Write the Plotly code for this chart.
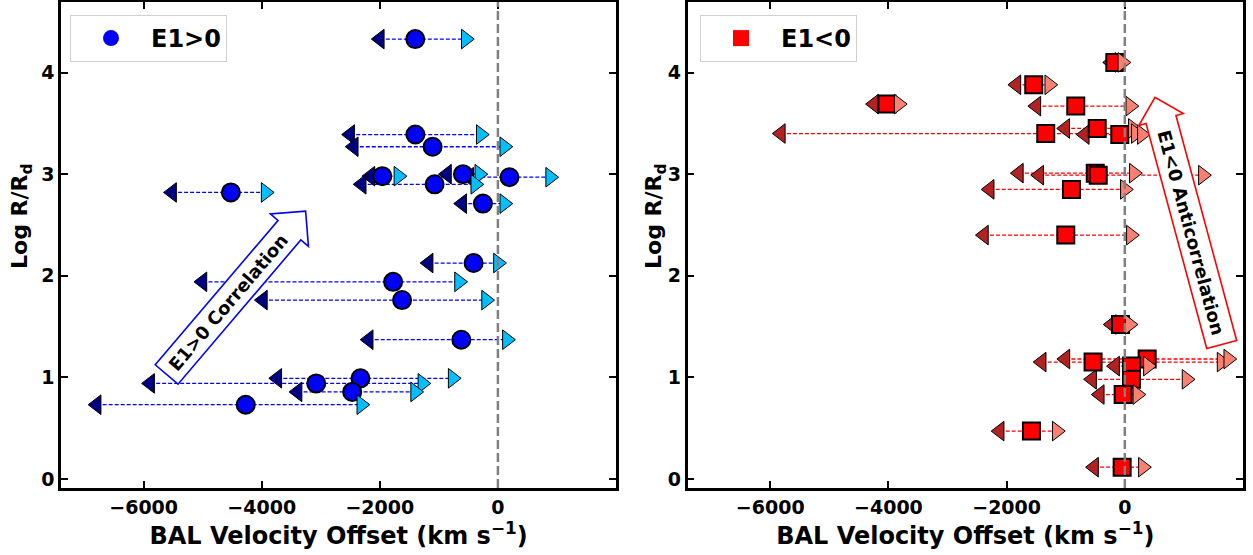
import math
import plotly.graph_objects as go

# ---------------- data ----------------
# E1>0 sample: BAL velocity (circle), Log R/Rd, min and max velocity (triangles)
pos_vel = [-1400, -4523, -1398, -1106, -1958, -592, 196, -1072, -254, -412,
           -1775, -1623, -620, -2328, -3077, -2468, -4272]
pos_logr = [4.33, 2.82, 3.39, 3.27, 2.98, 3.00, 2.97, 2.90, 2.71, 2.125,
            1.94, 1.76, 1.37, 0.99, 0.94, 0.856, 0.73]
pos_vmin = [-2000, -5518, -2502, -2441, -2159, -862, -485, -2306, -604, -1173,
            -5004, -3980, -2188, -3736, -5890, -3393, -6796]
pos_vmax = [-545, -3934, -291, 107, -1686, -316, 884, -384, 107, 0,
            -659, -201, 152, -767, -1280, -1403, -2314]

# E1<0 sample
neg_vel = [-169, -1541, -830, -467, -1338, -85, -4025, -500, -450, -903,
           -999, -73, -537, 378, 113, 113, -28, -1580, -45]
neg_logr = [4.10, 3.88, 3.67, 3.45, 3.40, 3.39, 3.69, 3.01, 2.99, 2.85,
            2.40, 1.52, 1.15, 1.18, 1.11, 0.98, 0.83, 0.47, 0.115]
neg_vmin = [-230, -1834, -1496, -1008, -5820, -677, -4242, -1792, -1448, -2286,
            -2383, -220, -1406, -1005, -164, -553, -423, -2117, -520]
neg_vmax = [-42, -1279, 93, 135, 186, 288, -3827, 152, 1321, 0,
            102, 79, 1637, 1750, 390, 1044, 212, -1152, 305]

x_tickvals = [-6000, -4000, -2000, 0]
x_ticktext = ["\u22126000", "\u22124000", "\u22122000", "0"]
y_tickvals = [0, 1, 2, 3, 4]
x_range = [-7400, 2000]
y_range = [-0.09, 4.695]

# ---------------- layout geometry ----------------
W, H = 1253, 555
ML, MR, MT, MB = 61, 10, 2, 67
PW = W - ML - MR
PH = H - MT - MB
FONT = "DejaVu Sans"

fig = go.Figure()


def add_panel(xa, ya, vel, logr, vmin, vmax, line_col, lo_col, hi_col, mk_col,
              symbol, size, name, legend):
    lx, ly = [], []
    for a, b, yy in zip(vmin, vmax, logr):
        lx += [a, b, None]
        ly += [yy, yy, None]
    fig.add_trace(go.Scatter(x=lx, y=ly, mode="lines", xaxis=xa, yaxis=ya,
                             line=dict(color=line_col, width=1.3, dash="4px,2px"),
                             showlegend=False, hoverinfo="skip"))
    fig.add_trace(go.Scatter(x=vmin, y=logr, mode="markers", xaxis=xa, yaxis=ya,
                             marker=dict(symbol="triangle-left", size=17, color=lo_col,
                                         line=dict(color="black", width=1)),
                             showlegend=False))
    fig.add_trace(go.Scatter(x=vel, y=logr, mode="markers", xaxis=xa, yaxis=ya,
                             marker=dict(symbol=symbol, size=size, color=mk_col,
                                         line=dict(color="black", width=2)),
                             showlegend=False))
    fig.add_trace(go.Scatter(x=vmax, y=logr, mode="markers", xaxis=xa, yaxis=ya,
                             marker=dict(symbol="triangle-right", size=17, color=hi_col,
                                         line=dict(color="black", width=1)),
                             showlegend=False))
    # legend entry
    fig.add_trace(go.Scatter(x=[None], y=[None], mode="markers", xaxis=xa, yaxis=ya,
                             marker=dict(symbol=symbol, size=16, color=mk_col),
                             name=name, legend=legend, showlegend=True))


add_panel("x", "y", pos_vel, pos_logr, pos_vmin, pos_vmax,
          "blue", "#000080", "#00BFFF", "blue", "circle", 18, "E1>0", "legend")
add_panel("x2", "y2", neg_vel, neg_logr, neg_vmin, neg_vmax,
          "red", "#B22222", "#FA8072", "red", "square", 17, "E1<0", "legend2")


def px2paper(px, py):
    return (px - ML) / PW, (H - MB - py) / PH


def arrow_path(x0, y0, ang_deg, body_len, half_w, head_half, head_len):
    a = math.radians(ang_deg)
    ux, uy = math.cos(a), -math.sin(a)
    nx, ny = -uy, ux
    local = [(0, -half_w), (body_len, -half_w), (body_len, -head_half),
             (body_len + head_len, 0), (body_len, head_half), (body_len, half_w),
             (0, half_w)]
    pts = [px2paper(x0 + u * ux + v * nx, y0 + u * uy + v * ny) for u, v in local]
    return "M " + " L ".join(f"{x:.5f},{y:.5f}" for x, y in pts) + " Z"


def body_center(x0, y0, ang_deg, body_len):
    a = math.radians(ang_deg)
    return px2paper(x0 + math.cos(a) * body_len / 2, y0 - math.sin(a) * body_len / 2)


shapes = []
for xr in ("x", "x2"):
    shapes.append(dict(type="line", xref=xr, yref=("y domain" if xr == "x" else "y2 domain"),
                       x0=0, x1=0, y0=0, y1=1, layer="above",
                       line=dict(color="gray", width=2.5, dash="9px,4px")))

# annotation arrows (pixel geometry)
L_ARROW = (166.6, 374.5, 49.6, 189.5, 15, 25, 25)
R_ARROW = (1221.7, 344.5, 105.1, 233, 15.5, 23, 23)
shapes.append(dict(type="path", xref="paper", yref="paper", path=arrow_path(*L_ARROW),
                   fillcolor="white", line=dict(color="blue", width=1.6), layer="above"))
shapes.append(dict(type="path", xref="paper", yref="paper", path=arrow_path(*R_ARROW),
                   fillcolor="white", line=dict(color="red", width=1.6), layer="above"))

lcx, lcy = body_center(*L_ARROW[:3], L_ARROW[3])
rcx, rcy = body_center(*R_ARROW[:3], R_ARROW[3])
title_font = dict(family=FONT, size=22, color="black", weight="bold")
ylab_l = px2paper(21, 216)
ylab_r = px2paper(655, 216)
annotations = [
    dict(x=lcx, y=lcy, xref="paper", yref="paper", text="E1>0 Correlation",
         textangle=-49.6, showarrow=False, xanchor="center", yanchor="middle",
         font=dict(family=FONT, size=18, color="black", weight="bold")),
    dict(x=rcx, y=rcy, xref="paper", yref="paper", text="E1<0 Anticorrelation",
         textangle=74.9, showarrow=False, xanchor="center", yanchor="middle",
         font=dict(family=FONT, size=18, color="black", weight="bold")),
    dict(x=ylab_l[0], y=ylab_l[1], xref="paper", yref="paper", text="Log R/R<sub>d</sub>",
         textangle=-90, showarrow=False, xanchor="center", yanchor="middle", font=title_font),
    dict(x=ylab_r[0], y=ylab_r[1], xref="paper", yref="paper", text="Log R/R<sub>d</sub>",
         textangle=-90, showarrow=False, xanchor="center", yanchor="middle", font=title_font),
]

left_end = 555 / PW
right_start = (687.5 - ML) / PW

axis_common = dict(showgrid=False, zeroline=False, showline=True, linecolor="black",
                   linewidth=2.5, mirror="ticks", ticks="inside", ticklen=7, tickwidth=2,
                   tickcolor="black", automargin=False,
                   tickfont=dict(family=FONT, size=19, color="black", weight="bold"))
xtitle = dict(text="BAL Velocity Offset (km s<sup>\u22121</sup>)",
              font=dict(family=FONT, size=24, color="black", weight="bold"), standoff=6)

fig.update_layout(
    width=W, height=H, margin=dict(l=ML, r=MR, t=MT, b=MB, autoexpand=False),
    paper_bgcolor="white", plot_bgcolor="white",
    xaxis=dict(domain=[0, left_end], range=x_range, tickvals=x_tickvals,
               ticktext=x_ticktext, title=xtitle, anchor="y", **axis_common),
    yaxis=dict(domain=[0, 1], range=y_range, tickvals=y_tickvals,
               anchor="x", **axis_common),
    xaxis2=dict(domain=[right_start, 1], range=x_range, tickvals=x_tickvals,
                ticktext=x_ticktext, title=xtitle, anchor="y2", **axis_common),
    yaxis2=dict(domain=[0, 1], range=y_range, tickvals=y_tickvals,
                anchor="x2", **axis_common),
    legend=dict(x=(70 - ML) / PW, y=1 - (15 - MT) / PH, xanchor="left", yanchor="top",
                bgcolor="white", bordercolor="#d0d0d0", borderwidth=1, itemwidth=70,
                font=dict(family=FONT, size=24, color="black", weight="bold")),
    legend2=dict(x=(700 - ML) / PW, y=1 - (15 - MT) / PH, xanchor="left", yanchor="top",
                 bgcolor="white", bordercolor="#d0d0d0", borderwidth=1, itemwidth=70,
                 font=dict(family=FONT, size=24, color="black", weight="bold")),
    shapes=shapes, annotations=annotations,
)

fig.write_html("out.html", config={"displayModeBar": False},
               post_script="document.body.style.margin='0';document.body.style.padding='0';")
